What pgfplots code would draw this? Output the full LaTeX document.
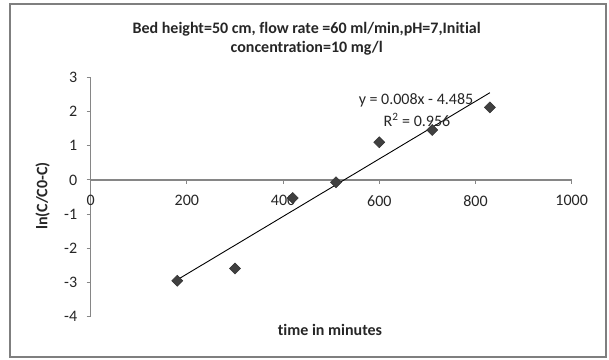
\documentclass[border=0pt]{standalone}
\usepackage{pgfplots}
\pgfplotsset{compat=1.18}
\usepackage{fontspec}
\setmainfont[Ligatures={NoCommon}]{Carlito}
\definecolor{axisgray}{HTML}{868686}
\definecolor{framegray}{HTML}{7F7F7F}
\definecolor{markgray}{HTML}{404040}
\definecolor{txt}{HTML}{262626}
\begin{document}
\fontsize{16bp}{19bp}\selectfont
\begin{tikzpicture}
\useasboundingbox (-90.7bp,-43.3bp) rectangle (518.3bp,316.7bp);
\draw[framegray, line width=1.5bp] (-80.7bp,-40.3bp) rectangle (515.3bp,312.7bp);
\begin{axis}[
  at={(0,0)}, anchor=south west,
  scale only axis, width=481bp, height=239.4bp,
  xmin=0, xmax=1000, ymin=-4, ymax=3,
  axis x line=middle, axis y line=left,
  hide obscured x ticks=false, hide obscured y ticks=false,
  axis line style={-, draw=axisgray, line width=1.3bp},
  xtick={0,200,...,1000}, ytick={-4,-3,...,3},
  tick align=outside, major tick length=4bp,
  tick style={axisgray, line width=1bp},
  /pgf/number format/assume math mode=true,
  /pgf/number format/1000 sep={},
  ticklabel style={font=\fontsize{16bp}{19bp}\selectfont, text=txt},
  xticklabel style={anchor=north, yshift=-6bp},
  yticklabel style={anchor=east, xshift=-4bp},
  clip=false,
]
\addplot[only marks, mark=square*, mark size=3.9bp,
  mark options={rotate=45, fill=markgray, draw=black!80, line width=0.5bp}]
  coordinates {(180,-2.95) (300,-2.59) (420,-0.53) (510,-0.07) (600,1.10) (710,1.46) (830,2.12)};
\addplot[black, line width=0.9bp] coordinates {(180,-2.92) (830,2.55)};
\end{axis}
\node[align=center, font=\bfseries, text=txt] at (216bp,277.7bp)
  {Bed height=50 cm, flow rate =60 ml/min,pH=7,Initial\\concentration=10 mg/l};
\node[rotate=90, font=\bfseries, text=txt] at (-48.1bp,120.7bp) {ln(C/C0-C)};
\node[font=\bfseries, text=txt] at (239.3bp,-13.3bp) {time in minutes};
\node[text=txt] at (325.3bp,216.7bp) {y = 0.008x - 4.485};
\node[text=txt] at (326.3bp,196.7bp) {R\textsuperscript{2} = 0.956};
\end{tikzpicture}
\end{document}
